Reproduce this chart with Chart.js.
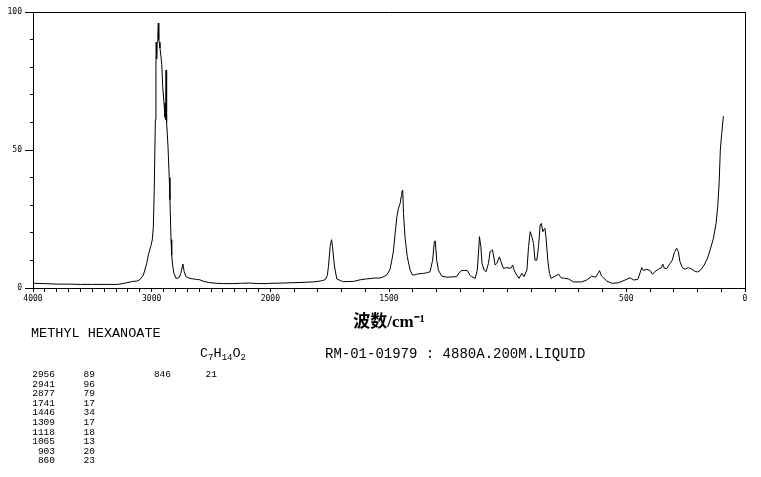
<!DOCTYPE html>
<html>
<head>
<meta charset="utf-8">
<script src="https://cdn.jsdelivr.net/npm/chart.js@4/dist/chart.umd.min.js"></script>
<style>
  html, body { margin: 0; padding: 0; background: #fff; }
  #wrap { position: relative; width: 761px; height: 477px; background: #fff; overflow: hidden; }
  #c { position: absolute; left: 0; top: 0; }
  .t { position: absolute; font-family: "Liberation Mono", "DejaVu Sans Mono", monospace; color: #000; white-space: pre; }
</style>
</head>
<body>
<div id="wrap">
  <canvas id="c" width="761" height="340"></canvas>
</div>
<script>
// ---------- data ----------
const wavenumbers = [
  4000, 3900, 3800, 3700, 3600, 3500, 3400, 3300, 3267, 3210, 3160, 3126, 3100, 3070, 3042, 3028, 3008, 2995,
  2986, 2978, 2969, 2964, 2962, 2958, 2954, 2948, 2944, 2940, 2936, 2930, 2922, 2915, 2907, 2896, 2888, 2882,
  2879, 2876, 2872, 2862, 2852, 2846, 2837, 2831, 2823, 2812, 2795, 2780, 2767, 2755, 2748, 2737, 2726, 2711,
  2690, 2677, 2650, 2621, 2596, 2560, 2520, 2456, 2400, 2316, 2250, 2176, 2100, 2036, 2000, 1945, 1875, 1820,
  1790, 1769, 1760, 1755, 1748, 1742, 1738, 1730, 1720, 1700, 1692, 1650, 1620, 1594, 1560, 1538, 1525, 1510,
  1496, 1488, 1482, 1474, 1467, 1460, 1453, 1449, 1446, 1442, 1439, 1432, 1423, 1411, 1401, 1390, 1383, 1369,
  1355, 1341, 1327, 1316, 1309, 1305, 1299, 1292, 1278, 1257, 1240, 1215, 1205, 1194, 1180, 1170, 1158, 1151,
  1137, 1128, 1122, 1119, 1113, 1108, 1099, 1091, 1081, 1074, 1068, 1064, 1060, 1053, 1046, 1035, 1028, 1018,
  1004, 987, 979, 973, 962, 952, 940, 931, 919, 912, 905, 898, 891, 885, 877, 870, 863, 858, 852, 848, 843,
  838, 831, 824, 817, 800, 786, 775, 760, 744, 723, 688, 667, 646, 629, 618, 613, 604, 582, 561, 533, 505,
  484, 470, 452, 445, 435, 428, 414, 400, 390, 379, 365, 354, 346, 340, 330, 316, 306, 298, 288, 281, 274,
  264, 253, 239, 224, 210, 199, 186, 172, 158, 147, 133, 122, 115, 109, 104, 98, 91
];
const intensities = [
  1.7, 1.6, 1.4, 1.4, 1.3, 1.3, 1.3, 1.3, 1.4, 1.9, 2.4, 2.5, 3.0, 4.7, 8.9, 12, 15, 17.4,
  22, 36, 61, 80, 89, 83, 89, 92, 96, 90, 89, 87, 84, 81, 73, 67, 62, 61,
  79, 61, 60, 51, 40, 32, 17.5, 12, 8, 5.3, 3.5, 3.6, 3.9, 5.2, 6.5, 8.7, 5.9, 4.1,
  3.7, 3.5, 3.3, 3.1, 3.0, 2.4, 2.0, 1.7, 1.6, 1.6, 1.7, 1.8, 1.6, 1.6, 1.7, 1.8, 2.0, 2.2,
  2.5, 3.0, 4.5, 7.9, 15, 17.5, 15, 8, 3.3, 2.5, 2.3, 2.4, 3.0, 3.3, 3.6, 3.6, 4.0, 4.7,
  6.6, 10.1, 13, 19.8, 25.8, 28.9, 30.7, 33, 34.9, 35.5, 27, 18, 11.3, 6.5, 4.7, 4.8, 5.0, 5.2,
  5.3, 5.5, 5.9, 10.1, 16.8, 17.1, 10.1, 6.5, 4.3, 3.9, 4.0, 4.1, 5.5, 6.3, 6.4, 6.3, 4.5, 4.1,
  3.5, 6.5, 14, 18.6, 15, 8.9, 6.5, 5.9, 8.9, 13.2, 13.5, 13.8, 12, 8.3, 8.9, 11.3, 9.5, 7.1,
  7.4, 7.1, 8.3, 6.5, 4.7, 3.5, 5.3, 4.1, 6.5, 15, 20.4, 18.6, 16.2, 10.1, 10.1, 15, 22.8, 23.4, 20.4, 21, 21.6,
  18, 10.1, 5.3, 3.5, 4.3, 5.0, 3.7, 3.5, 3.3, 2.2, 2.2, 2.9, 4.3, 3.9, 5.5, 6.3, 4.3, 2.5, 1.7, 1.9, 2.9,
  3.7, 2.9, 3.1, 4.7, 7.4, 6.3, 6.8, 6.3, 5.0, 6.0, 6.8, 7.2, 8.6, 7.2, 7.0, 8.9, 10.1, 12.8, 14.4, 13.2, 9.5,
  7.4, 6.8, 7.4, 6.8, 6.0, 5.8, 6.6, 8.3, 10.8, 13.8, 18, 23.4, 29.5, 37.9, 50, 56, 62.3
];
const xTickLabels = [4000, 3000, 2000, 1500, 500, 0];
const yMajorTickValues = [0, 50, 100];
const compoundName = "METHYL HEXANOATE";
const sampleInfo = "RM-01-01979 : 4880A.200M.LIQUID";
const peakWavenumbers = [2956, 2941, 2877, 1741, 1446, 1309, 1118, 1065, 903, 860, 846];
const peakIntensities = [89, 96, 79, 17, 34, 17, 18, 13, 20, 23, 21];

// ---------- broken wavenumber axis (4000-2000 compressed, 2000-0 at double scale) ----------
function brokenFraction(v) { return v >= 2000 ? (4000 - v) / 6000 : 1 / 3 + (2000 - v) / 3000; }
function brokenInverse(f) { return f <= 1 / 3 ? 4000 - f * 6000 : 2000 - (f - 1 / 3) * 3000; }
class BrokenAxis extends Chart.LinearScale {
  getPixelForValue(value) {
    if (value === null || value === undefined) return NaN;
    return this.getPixelForDecimal(brokenFraction(value));
  }
  getValueForPixel(pixel) { return brokenInverse(this.getDecimalForPixel(pixel)); }
}
BrokenAxis.id = 'brokenWavenumber';
BrokenAxis.defaults = {};
Chart.register(BrokenAxis);

const xTickValues = [];
for (let v = 0; v <= 4000; v += 100) xTickValues.push(v);
const yMinorTickValues = [];
for (let v = 0; v <= 100; v += 10) yMinorTickValues.push(v);

const tickFont = { family: '"DejaVu Sans Mono", monospace', size: 8 };
const black = '#000';

new Chart(document.getElementById('c'), {
  type: 'line',
  data: {
    datasets: [{
      data: wavenumbers.map((w, i) => ({ x: w, y: intensities[i] })),
      borderColor: black,
      borderWidth: 1,
      pointRadius: 0,
      tension: 0,
      fill: false,
      xAxisID: 'x',
      yAxisID: 'y'
    }]
  },
  options: {
    responsive: false,
    devicePixelRatio: 1,
    animation: false,
    layout: { padding: { top: 12, right: 16, left: 0, bottom: 0 } },
    plugins: { legend: { display: false }, tooltip: { enabled: false } },
    scales: {
      x: {
        type: 'brokenWavenumber',
        position: 'bottom',
        min: 0, max: 4000,
        afterBuildTicks: s => { s.ticks = xTickValues.map(v => ({ value: v })); },
        afterFit: s => { s.height = 52; },
        ticks: {
          autoSkip: false, maxRotation: 0, minRotation: 0,
          color: black, font: tickFont, padding: 2,
          callback: v => xTickLabels.includes(v) ? String(v) : ''
        },
        grid: { drawOnChartArea: false, drawTicks: true, tickLength: 4, tickColor: black },
        border: { display: true, color: black, width: 1 },
        title: {
          display: true,
          text: '波数/cm⁻¹',
          color: black,
          font: { family: '"Liberation Serif", "Noto Sans CJK SC", serif', size: 17, weight: 'bold' },
          padding: { top: 0, bottom: 7 }
        }
      },
      y: {
        type: 'linear',
        position: 'left',
        weight: 0,
        min: 0, max: 100,
        afterBuildTicks: s => { s.ticks = yMinorTickValues.map(v => ({ value: v })); },
        afterFit: s => { s.width = 0; },
        ticks: { display: false },
        grid: { drawOnChartArea: false, drawTicks: true, tickLength: 3, tickColor: black },
        border: { display: true, color: black, width: 1 }
      },
      yMajor: {
        type: 'linear',
        position: 'left',
        weight: 1,
        min: 0, max: 100,
        afterBuildTicks: s => { s.ticks = yMajorTickValues.map(v => ({ value: v })); },
        afterFit: s => { s.width = 33; },
        ticks: { color: black, font: tickFont, padding: 3, autoSkip: false },
        grid: { drawOnChartArea: false, drawTicks: true, tickLength: 8, tickColor: black },
        border: { display: false }
      },
      xTop: {
        type: 'linear',
        position: 'top',
        min: 0, max: 1,
        afterFit: s => { s.height = 0; },
        ticks: { display: false },
        grid: { drawOnChartArea: false, drawTicks: false },
        border: { display: true, color: black, width: 1 }
      },
      yRight: {
        type: 'linear',
        position: 'right',
        min: 0, max: 1,
        afterFit: s => { s.width = 0; },
        ticks: { display: false },
        grid: { drawOnChartArea: false, drawTicks: false },
        border: { display: true, color: black, width: 1 }
      }
    }
  }
});

// ---------- text block below the chart ----------
const wrap = document.getElementById('wrap');
function addText(html, left, top, size, extra) {
  const d = document.createElement('div');
  d.className = 't';
  d.innerHTML = html;
  d.style.left = left + 'px';
  d.style.top = top + 'px';
  d.style.fontSize = size + 'px';
  d.style.lineHeight = size + 'px';
  if (extra) Object.assign(d.style, extra);
  wrap.appendChild(d);
  return d;
}
addText(compoundName, 31, 327, 13.5);
addText('C<span style="font-size:9px;position:relative;top:3px">7</span>H<span style="font-size:9px;position:relative;top:3px">14</span>O<span style="font-size:9px;position:relative;top:3px">2</span>', 200, 347, 13.5);
addText(sampleInfo, 325, 347, 14);

const rowH = 9.6;
peakWavenumbers.forEach((w, i) => {
  const col = i < 10 ? 0 : 1;
  const row = i < 10 ? i : i - 10;
  const top = 370 + row * rowH;
  const wnRight = col === 0 ? 55 : 171;
  const inRight = col === 0 ? 95 : 217;
  addText(String(w), wnRight - 40, top, 9.5, { width: '40px', textAlign: 'right' });
  addText(String(peakIntensities[i]), inRight - 30, top, 9.5, { width: '30px', textAlign: 'right' });
});
</script>
</body>
</html>
